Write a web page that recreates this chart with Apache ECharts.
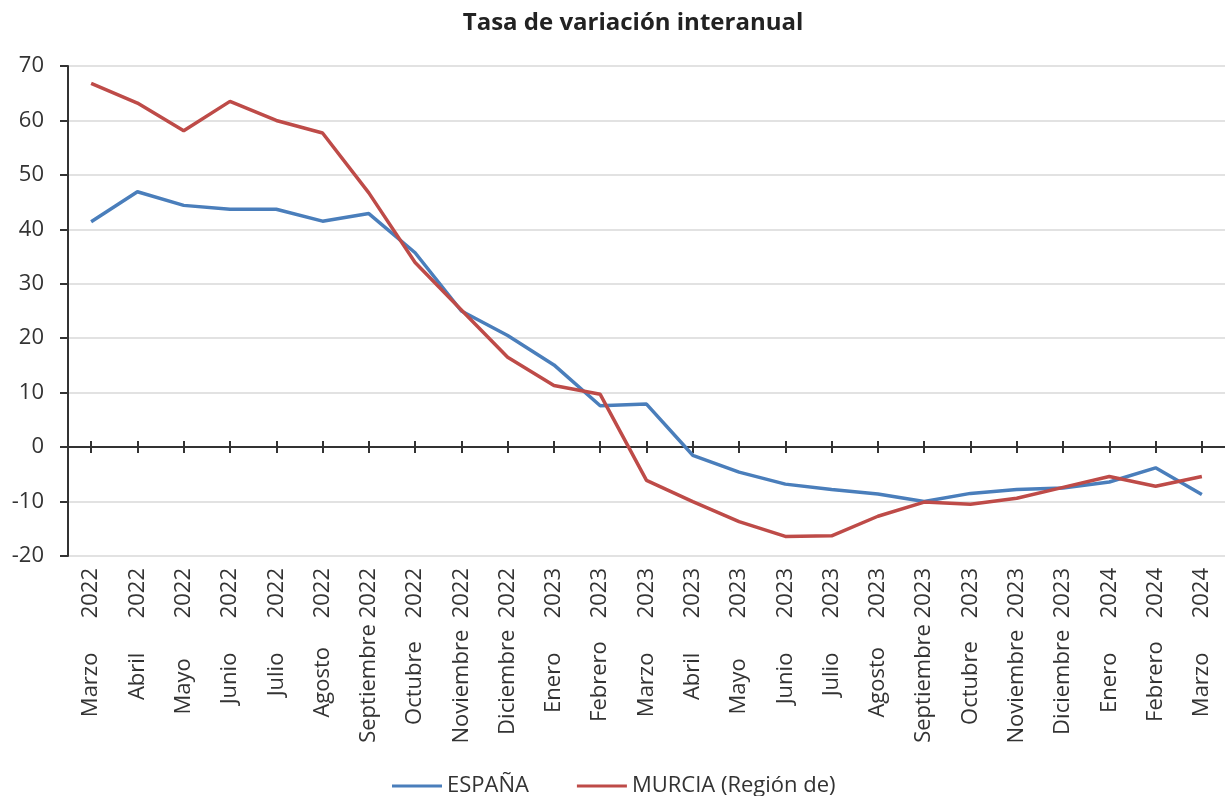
<!DOCTYPE html>
<html>
<head>
<meta charset="utf-8">
<script src="https://cdn.jsdelivr.net/npm/echarts@6/dist/echarts.min.js"></script>
<style>
  html, body { margin: 0; padding: 0; background: #fff; }
  #chart { width: 1225px; height: 796px; }
</style>
</head>
<body>
<div id="chart"></div>
<script>
const months = ['Marzo', 'Abril', 'Mayo', 'Junio', 'Julio', 'Agosto', 'Septiembre', 'Octubre', 'Noviembre', 'Diciembre',
  'Enero', 'Febrero', 'Marzo', 'Abril', 'Mayo', 'Junio', 'Julio', 'Agosto', 'Septiembre', 'Octubre', 'Noviembre', 'Diciembre',
  'Enero', 'Febrero', 'Marzo']
const years = ['2022', '2022', '2022', '2022', '2022', '2022', '2022', '2022', '2022', '2022',
  '2023', '2023', '2023', '2023', '2023', '2023', '2023', '2023', '2023', '2023', '2023', '2023',
  '2024', '2024', '2024']
const espana = [41.4, 46.9, 44.4, 43.7, 43.7, 41.5, 42.9, 35.7, 25.0, 20.5,
  15.1, 7.6, 7.9, -1.5, -4.6, -6.8, -7.8, -8.6, -10.0, -8.5, -7.8, -7.5,
  -6.4, -3.8, -8.7]
const murcia = [66.8, 63.2, 58.1, 63.5, 60.0, 57.7, 46.7, 33.9, 25.2, 16.5,
  11.3, 9.7, -6.1, -10.0, -13.7, -16.4, -16.3, -12.7, -10.1, -10.5, -9.4, -7.4,
  -5.4, -7.2, -5.4]
const yTicks = { min: -20, max: 70, interval: 10 }

// month padded to a fixed width, then the year
const categories = months.map((m, i) => m.padEnd(10, ' ') + ' ' + years[i])

const FONT = 'Open Sans'
const chart = echarts.init(document.getElementById('chart'))

chart.setOption({
  animation: false,
  textStyle: { fontFamily: FONT },
  title: {
    text: 'Tasa de variación interanual',
    left: 628,
    textAlign: 'center',
    top: 6,
    textStyle: { fontFamily: FONT, fontSize: 24, fontWeight: 'bold', color: '#222' }
  },
  legend: {
    top: 770,
    left: 387,
    itemWidth: 50,
    itemHeight: 3,
    itemGap: 48,
    icon: 'rect',
    textStyle: { fontFamily: FONT, fontSize: 22, color: '#333' },
    data: ['ESPAÑA', 'MURCIA (Región de)']
  },
  grid: { left: 68, top: 66, width: 1158, height: 490, containLabel: false },
  xAxis: [
    {
      type: 'category',
      data: categories,
      boundaryGap: true,
      axisLine: { show: false, onZero: false },
      axisTick: { show: false },
      axisLabel: { rotate: 90, margin: 12, fontSize: 22, color: '#333', fontFamily: FONT, interval: 0 }
    },
    {
      type: 'category',
      data: categories,
      position: 'bottom',
      boundaryGap: true,
      axisLine: { show: true, onZero: true, onZeroAxisIndex: 0, lineStyle: { color: '#333', width: 2 } },
      axisTick: { show: true, alignWithLabel: true, interval: 0, length: 6, lineStyle: { color: '#333', width: 2 } },
      axisLabel: { show: false }
    },
    {
      type: 'category',
      data: categories,
      position: 'bottom',
      boundaryGap: true,
      axisLine: { show: false, onZero: true, onZeroAxisIndex: 0 },
      axisTick: { show: true, inside: true, alignWithLabel: true, interval: 0, length: 6, lineStyle: { color: '#333', width: 2 } },
      axisLabel: { show: false }
    }
  ],
  yAxis: {
    type: 'value',
    min: yTicks.min,
    max: yTicks.max,
    interval: yTicks.interval,
    axisLine: { show: true, lineStyle: { color: '#333', width: 2 } },
    axisTick: { show: true, length: 8, lineStyle: { color: '#333', width: 2 } },
    axisLabel: { fontSize: 22, color: '#333', margin: 24, fontFamily: FONT },
    splitLine: { lineStyle: { color: '#d9d9d9', width: 1.5 } }
  },
  series: [
    {
      name: 'ESPAÑA',
      type: 'line',
      data: espana,
      symbol: 'none',
      color: '#4a7ebb',
      lineStyle: { width: 3.5, color: '#4a7ebb' }
    },
    {
      name: 'MURCIA (Región de)',
      type: 'line',
      data: murcia,
      symbol: 'none',
      color: '#be4b48',
      lineStyle: { width: 3.5, color: '#be4b48' }
    }
  ]
})
</script>
</body>
</html>
